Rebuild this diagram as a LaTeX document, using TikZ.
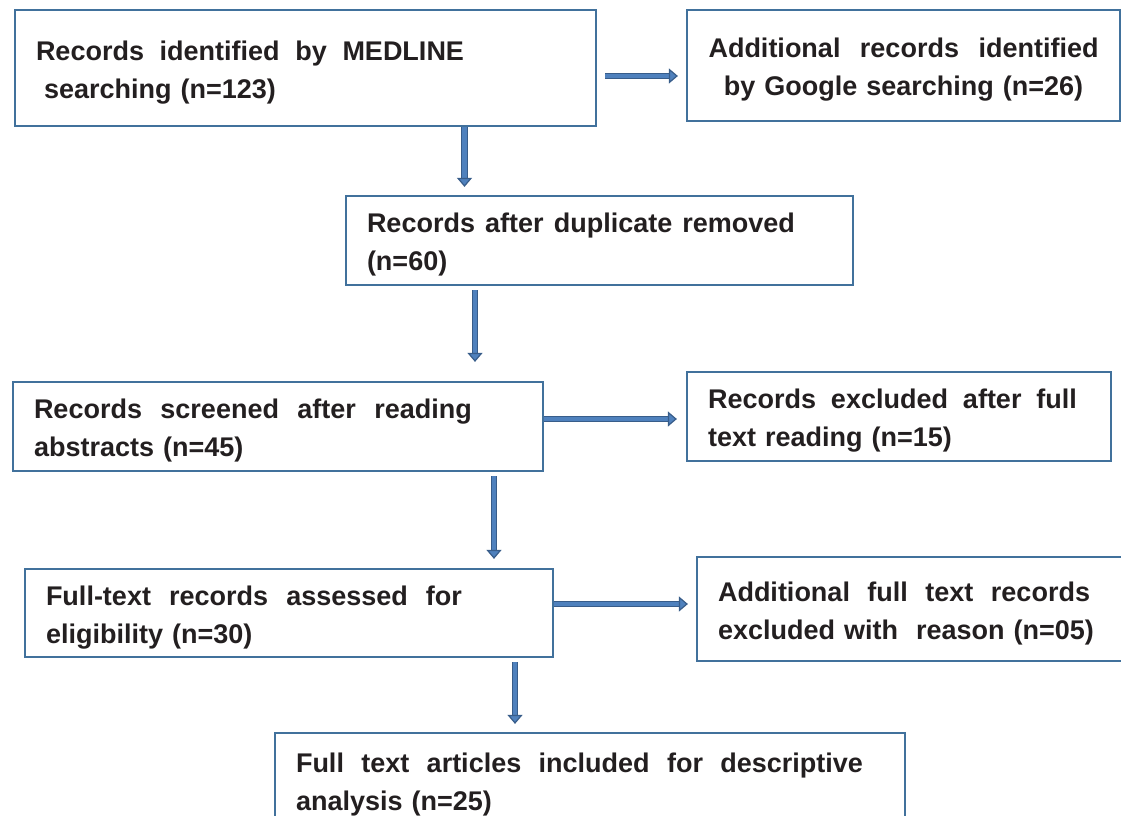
\documentclass[tikz,border=0pt]{standalone}
\usepackage{fontspec}
\setmainfont{Liberation Sans}
\usetikzlibrary{arrows.meta}

\definecolor{boxline}{RGB}{65,113,156}
\definecolor{arrowfill}{RGB}{79,129,189}
\definecolor{arrowline}{RGB}{56,93,138}
\definecolor{textgray}{RGB}{35,31,32}

\begin{document}
\begin{tikzpicture}[x=1pt,y=-1pt,
    flowbox/.style={draw=boxline,line width=2.2pt,inner xsep=21pt,inner ysep=0pt,
      align=left,text=textgray,font=\bfseries\fontsize{27}{38}\selectfont,
      execute at begin node={\rule{0pt}{28pt}}},
    flowarrow/.style={draw=arrowline,double=arrowfill,double distance=4.5pt,line width=1.2pt,
      -{Triangle[width=15pt,length=9pt,fill=arrowfill,line width=1.2pt]}}
  ]

  \clip (0,0) rectangle (1121,816);

  % boxes: centre, width, height
  \node[flowbox,minimum width=581pt,minimum height=116pt,text width=539pt] (medline) at (305.5,68)
    {\makebox[428pt]{Records\hfill identified\hfill by\hfill MEDLINE}\\\hspace{8pt}searching (n=123)};
  \node[flowbox,minimum width=433pt,minimum height=111pt,text width=391pt,align=center] (google) at (903.5,65.5)
    {\makebox[390pt]{Additional\hfill records\hfill identified}\\by Google searching (n=26)};
  \node[flowbox,minimum width=507pt,minimum height=89pt,text width=465pt] (dedup) at (599.5,240.5)
    {\makebox[428pt]{Records\hfill after\hfill duplicate\hfill removed}\\(n=60)};
  \node[flowbox,minimum width=530pt,minimum height=89pt,text width=488pt] (screen) at (278,426.5)
    {\makebox[438pt]{Records\hfill screened\hfill after\hfill reading}\\abstracts (n=45)};
  \node[flowbox,minimum width=424pt,minimum height=89pt,text width=382pt] (exclread) at (899,416.5)
    {\makebox[369pt]{Records\hfill excluded\hfill after\hfill full}\\text reading (n=15)};
  \node[flowbox,minimum width=528pt,minimum height=88pt,text width=486pt] (eligible) at (289,613)
    {\makebox[416pt]{Full-text\hfill records\hfill assessed\hfill for}\\eligibility (n=30)};
  \node[flowbox,minimum width=440pt,minimum height=104pt,text width=398pt] (exclreason) at (917,609)
    {\makebox[372pt]{Additional\hfill full\hfill text\hfill records}\\excluded with\ \ reason (n=05)};
  \node[flowbox,minimum width=630pt,minimum height=94pt,text width=588pt] (included) at (590,780)
    {\makebox[567pt]{Full\hfill text\hfill articles\hfill included\hfill for\hfill descriptive}\\analysis (n=25)};

  % arrow lines
  \coordinate (ab) at (0,76);
  \coordinate (ac) at (464.5,0);
  \coordinate (cd) at (475,0);
  \coordinate (de) at (0,419);
  \coordinate (df) at (494,0);
  \coordinate (fg) at (0,604);
  \coordinate (fh) at (515,0);

  \draw[flowarrow] ([xshift=8pt]medline.east |- ab) -- ([xshift=-8pt]google.west |- ab);
  \draw[flowarrow] (medline.south -| ac) -- ([yshift=8pt]dedup.north -| ac);
  \draw[flowarrow] ([yshift=-4pt]dedup.south -| cd) -- ([yshift=19pt]screen.north -| cd);
  \draw[flowarrow] (screen.east |- de) -- ([xshift=-9pt]exclread.west |- de);
  \draw[flowarrow] ([yshift=-4pt]screen.south -| df) -- ([yshift=9pt]eligible.north -| df);
  \draw[flowarrow] (eligible.east |- fg) -- ([xshift=-8pt]exclreason.west |- fg);
  \draw[flowarrow] ([yshift=-4pt]eligible.south -| fh) -- ([yshift=8pt]included.north -| fh);

\end{tikzpicture}
\end{document}
